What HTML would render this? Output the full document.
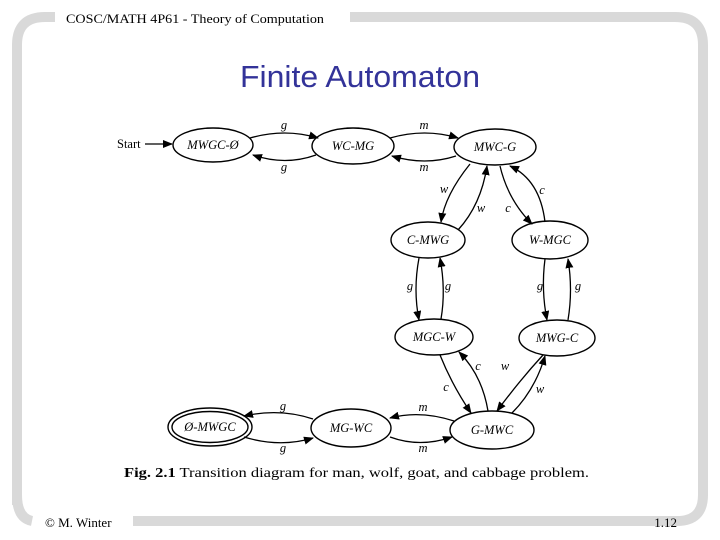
<!DOCTYPE html>
<html><head><style>
html,body{margin:0;padding:0;background:#fff;}
svg{display:block}
</style></head><body>
<svg width="720" height="540" viewBox="0 0 720 540" xmlns="http://www.w3.org/2000/svg">
<defs>
<marker id="a" markerWidth="10" markerHeight="8" refX="9" refY="4" orient="auto" markerUnits="userSpaceOnUse">
<path d="M0,0 L10,4 L0,8 z" fill="#000"/></marker>
</defs>
<!-- frame -->
<path d="M17,505 V45 Q17,17 45,17 H55" fill="none" stroke="#d9d9d9" stroke-width="10"/>
<path d="M350,17 H675 Q703,17 703,45 V495 Q703,521 677,521 H640" fill="none" stroke="#d9d9d9" stroke-width="10"/>
<path d="M17,495 Q17,518 32,521" fill="none" stroke="#d9d9d9" stroke-width="10"/>
<rect x="133" y="516" width="507" height="10" fill="#d9d9d9"/>
<text x="66" y="23" font-family="Liberation Serif,serif" font-size="13" textLength="258" lengthAdjust="spacingAndGlyphs" fill="#000">COSC/MATH 4P61 - Theory of Computation</text>
<text x="360" y="87" text-anchor="middle" font-family="Liberation Sans,sans-serif" font-size="31" textLength="240" lengthAdjust="spacingAndGlyphs" fill="#333399">Finite Automaton</text>
<text x="45" y="527" font-family="Liberation Serif,serif" font-size="13">© M. Winter</text>
<text x="677" y="527" text-anchor="end" font-family="Liberation Serif,serif" font-size="13">1.12</text>

<g fill="none" stroke="#000" stroke-width="1.4">
<ellipse cx="213" cy="145" rx="40" ry="17"/>
<ellipse cx="353" cy="146" rx="41" ry="18"/>
<ellipse cx="495" cy="147" rx="41" ry="18"/>
<ellipse cx="428" cy="240" rx="37" ry="18"/>
<ellipse cx="550" cy="240" rx="38" ry="19"/>
<ellipse cx="434" cy="337" rx="39" ry="18"/>
<ellipse cx="557" cy="338" rx="38" ry="18"/>
<ellipse cx="210" cy="427" rx="42" ry="19"/>
<ellipse cx="210" cy="427" rx="38" ry="15.5"/>
<ellipse cx="351" cy="428" rx="40" ry="19"/>
<ellipse cx="492" cy="430" rx="42" ry="19"/>
</g>
<g fill="none" stroke="#000" stroke-width="1.3" marker-end="url(#a)">
<line x1="145" y1="144" x2="172" y2="144"/>
<path d="M250,138 Q285,128 318,138"/>
<path d="M316,155 Q285,166 253,155"/>
<path d="M390,138 Q425,128 458,138"/>
<path d="M456,156 Q425,166 392,156"/>
<path d="M470,164 Q445,195 441,222"/>
<path d="M458,230 Q481,205 487,166"/>
<path d="M500,166 Q508,200 532,224"/>
<path d="M545,222 Q540,180 510,166"/>
<path d="M419,258 Q413,290 419,320"/>
<path d="M441,319 Q446,290 440,258"/>
<path d="M545,259 Q541,290 547,320"/>
<path d="M568,320 Q573,290 568,259"/>
<path d="M440,355 Q452,385 471,413"/>
<path d="M488,411 Q482,375 459,352"/>
<path d="M543,355 Q520,380 497,411"/>
<path d="M512,413 Q535,390 545,356"/>
<path d="M454,421 Q420,410 390,418"/>
<path d="M390,437 Q420,448 452,437"/>
<path d="M313,419 Q280,408 244,416"/>
<path d="M244,437 Q280,448 313,438"/>
</g>
<g font-family="Liberation Serif,serif" font-style="italic" font-size="12.5" text-anchor="middle">
<text x="213" y="149">MWGC-Ø</text>
<text x="353" y="150">WC-MG</text>
<text x="495" y="151">MWC-G</text>
<text x="428" y="244">C-MWG</text>
<text x="550" y="244">W-MGC</text>
<text x="434" y="341">MGC-W</text>
<text x="557" y="342">MWG-C</text>
<text x="210" y="431">Ø-MWGC</text>
<text x="351" y="432">MG-WC</text>
<text x="492" y="434">G-MWC</text>
<text x="284" y="129">g</text><text x="284" y="171">g</text>
<text x="424" y="129">m</text><text x="424" y="171">m</text>
<text x="444" y="193">w</text><text x="481" y="212">w</text>
<text x="508" y="212">c</text><text x="542" y="194">c</text>
<text x="410" y="290">g</text><text x="448" y="290">g</text>
<text x="540" y="290">g</text><text x="578" y="290">g</text>
<text x="478" y="370">c</text><text x="446" y="391">c</text>
<text x="505" y="370">w</text><text x="540" y="393">w</text>
<text x="283" y="410">g</text><text x="283" y="452">g</text>
<text x="423" y="411">m</text><text x="423" y="452">m</text>
</g>
<text x="117" y="148" font-family="Liberation Serif,serif" font-size="12.5">Start</text>
<text x="124" y="477" font-family="Liberation Serif,serif" font-size="14" textLength="465" lengthAdjust="spacingAndGlyphs"><tspan font-weight="bold">Fig. 2.1</tspan>   Transition diagram for man, wolf, goat, and cabbage problem.</text>
</svg>
</body></html>
